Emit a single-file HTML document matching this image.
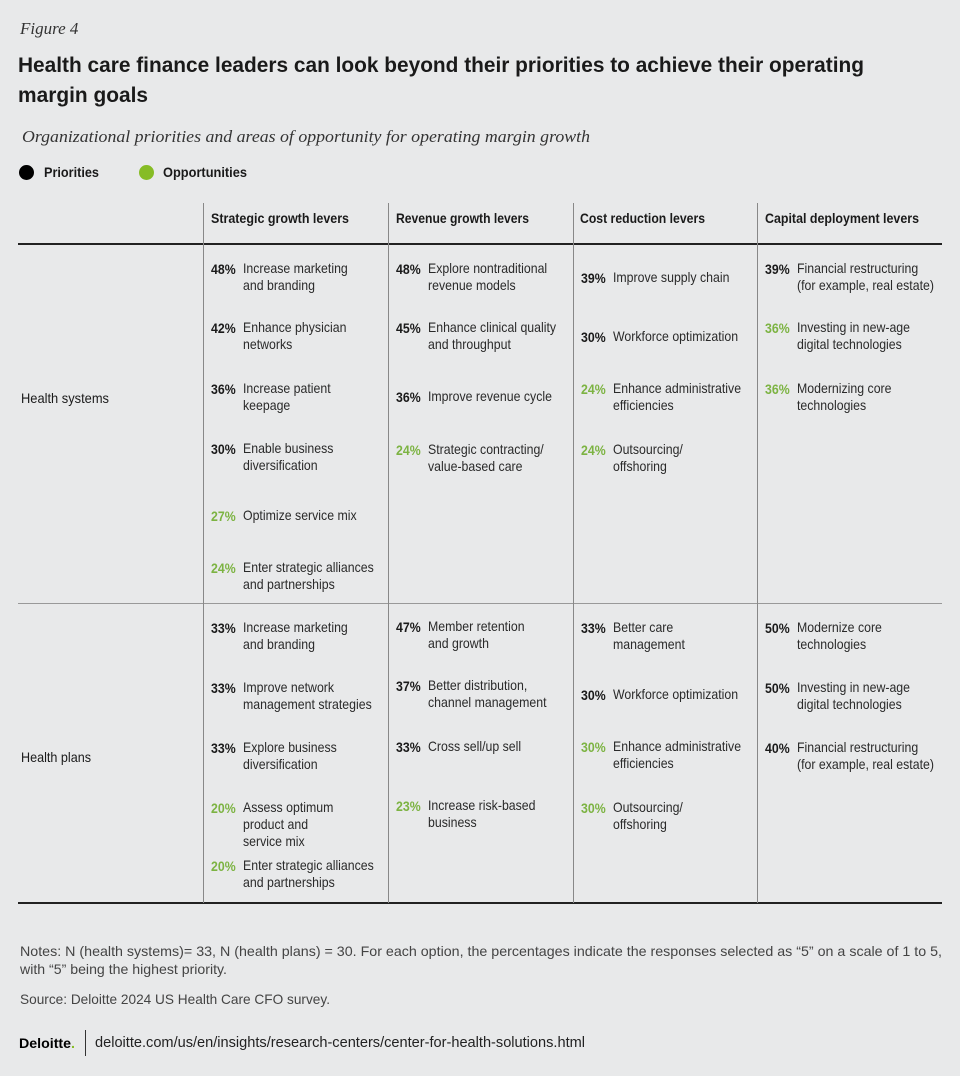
<!DOCTYPE html>
<html><head><meta charset="utf-8">
<style>
body{margin:0;background:#e8e9ea;}
#page{position:relative;width:960px;height:1076px;background:#e8e9ea;overflow:hidden;font-family:"Liberation Sans",sans-serif;color:#1a1a1a;}
.a{position:absolute;white-space:nowrap;transform-origin:0 0;}
.ln{position:absolute;background:#888;}
.pct{font-weight:bold;font-size:14px;}
.txt{font-size:14px;line-height:17px;color:#2a2a2a;}
.g{color:#7cb342;}
.hdr{font-weight:bold;font-size:14px;}
</style></head><body>
<div id="page">
<div class="a" style="left:20px;top:19px;font-family:'Liberation Serif',serif;font-style:italic;font-size:17px;color:#333">Figure 4</div>
<div class="a fit" data-w="846" style="left:18px;top:54px;font-weight:bold;font-size:21px;">Health care finance leaders can look beyond their priorities to achieve their operating</div>
<div class="a fit" data-w="130" style="left:18px;top:84px;font-weight:bold;font-size:21px;">margin goals</div>
<div class="a fit" data-w="568" style="left:22px;top:127px;font-family:'Liberation Serif',serif;font-style:italic;font-size:17px;color:#333">Organizational priorities and areas of opportunity for operating margin growth</div>
<div class="a" style="left:19px;top:165px;width:15px;height:15px;border-radius:50%;background:#000"></div>
<div class="a fit" data-w="55" style="left:44px;top:164px;font-weight:bold;font-size:14px">Priorities</div>
<div class="a" style="left:139px;top:165px;width:15px;height:15px;border-radius:50%;background:#86bc25"></div>
<div class="a fit" data-w="84" style="left:163px;top:164px;font-weight:bold;font-size:14px">Opportunities</div>

<div class="a fit hdr" data-w="138" style="left:211px;top:210px">Strategic growth levers</div>
<div class="a fit hdr" data-w="133" style="left:396px;top:210px">Revenue growth levers</div>
<div class="a fit hdr" data-w="125" style="left:580px;top:210px">Cost reduction levers</div>
<div class="a fit hdr" data-w="154" style="left:765px;top:210px">Capital deployment levers</div>

<div class="ln" style="left:18px;top:243px;width:924px;height:2px;background:#222"></div>
<div class="ln" style="left:18px;top:603px;width:924px;height:1px;background:#999"></div>
<div class="ln" style="left:18px;top:902px;width:924px;height:2px;background:#222"></div>
<div class="ln" style="left:203px;top:203px;width:1px;height:700px"></div>
<div class="ln" style="left:388px;top:203px;width:1px;height:700px"></div>
<div class="ln" style="left:573px;top:203px;width:1px;height:700px"></div>
<div class="ln" style="left:757px;top:203px;width:1px;height:700px"></div>

<div class="a txt fit" data-w="88" style="left:21px;top:390px;color:#1a1a1a">Health systems</div>
<div class="a txt fit" data-w="70" style="left:21px;top:749px;color:#1a1a1a">Health plans</div>

<div class="a txt fit" data-w="922" style="left:20px;top:943px;color:#444;font-size:14px">Notes: N (health systems)= 33, N (health plans) = 30. For each option, the percentages indicate the responses selected as “5” on a scale of 1 to 5,</div>
<div class="a txt fit" data-w="207" style="left:20px;top:961px;color:#444;font-size:14px">with “5” being the highest priority.</div>
<div class="a txt fit" data-w="310" style="left:20px;top:991px;color:#444">Source: Deloitte 2024 US Health Care CFO survey.</div>
<div class="a fit" data-w="56" style="left:19px;top:1035px;font-weight:bold;font-size:14px;color:#000">Deloitte<span style="color:#86bc25">.</span></div>
<div class="ln" style="left:85px;top:1030px;width:1px;height:26px;background:#333"></div>
<div class="a txt fit" data-w="490" style="left:95px;top:1034px;font-size:15px;color:#222">deloitte.com/us/en/insights/research-centers/center-for-health-solutions.html</div>
</div>
<script>
// columns x positions (pct, text)
const colPct=[211,396,581,765];
// [col, top, pct, green, text lines]
const items=[
[0,260,"48%",0,["Increase marketing","and branding"]],
[0,319,"42%",0,["Enhance physician","networks"]],
[0,380,"36%",0,["Increase patient","keepage"]],
[0,440,"30%",0,["Enable business","diversification"]],
[0,507,"27%",1,["Optimize service mix"]],
[0,559,"24%",1,["Enter strategic alliances","and partnerships"]],
[1,260,"48%",0,["Explore nontraditional","revenue models"]],
[1,319,"45%",0,["Enhance clinical quality","and throughput"]],
[1,388,"36%",0,["Improve revenue cycle"]],
[1,441,"24%",1,["Strategic contracting/","value-based care"]],
[2,269,"39%",0,["Improve supply chain"]],
[2,328,"30%",0,["Workforce optimization"]],
[2,380,"24%",1,["Enhance administrative","efficiencies"]],
[2,441,"24%",1,["Outsourcing/","offshoring"]],
[3,260,"39%",0,["Financial restructuring","(for example, real estate)"]],
[3,319,"36%",1,["Investing in new-age","digital technologies"]],
[3,380,"36%",1,["Modernizing core","technologies"]],
[0,619,"33%",0,["Increase marketing","and branding"]],
[0,679,"33%",0,["Improve network","management strategies"]],
[0,739,"33%",0,["Explore business","diversification"]],
[0,799,"20%",1,["Assess optimum","product and","service mix"]],
[0,857,"20%",1,["Enter strategic alliances","and partnerships"]],
[1,618,"47%",0,["Member retention","and growth"]],
[1,677,"37%",0,["Better distribution,","channel management"]],
[1,738,"33%",0,["Cross sell/up sell"]],
[1,797,"23%",1,["Increase risk-based","business"]],
[2,619,"33%",0,["Better care","management"]],
[2,686,"30%",0,["Workforce optimization"]],
[2,738,"30%",1,["Enhance administrative","efficiencies"]],
[2,799,"30%",1,["Outsourcing/","offshoring"]],
[3,619,"50%",0,["Modernize core","technologies"]],
[3,679,"50%",0,["Investing in new-age","digital technologies"]],
[3,739,"40%",0,["Financial restructuring","(for example, real estate)"]]
];
const page=document.getElementById('page');
items.forEach(it=>{
  const x=colPct[it[0]];
  const p=document.createElement('div');
  p.className='a pct'+(it[3]?' g':'');
  
  
  p.style.left=x+'px';p.style.top=(it[1]+1)+'px';p.style.transform='scaleX(0.88)';
  p.textContent=it[2];page.appendChild(p);
  const t=document.createElement('div');
  t.className='a txt';
  
  
  t.style.left=(x+32)+'px';t.style.top=it[1]+'px';t.style.transform='scaleX(0.88)';
  t.innerHTML=it[4].join('<br>');page.appendChild(t);
});
document.querySelectorAll('.fit').forEach(el=>{
  const w=+el.dataset.w; if(!w)return;
  const cw=el.getBoundingClientRect().width;
  if(cw>0)el.style.transform='scaleX('+(w/cw)+')';
});
</script>
</body></html>
